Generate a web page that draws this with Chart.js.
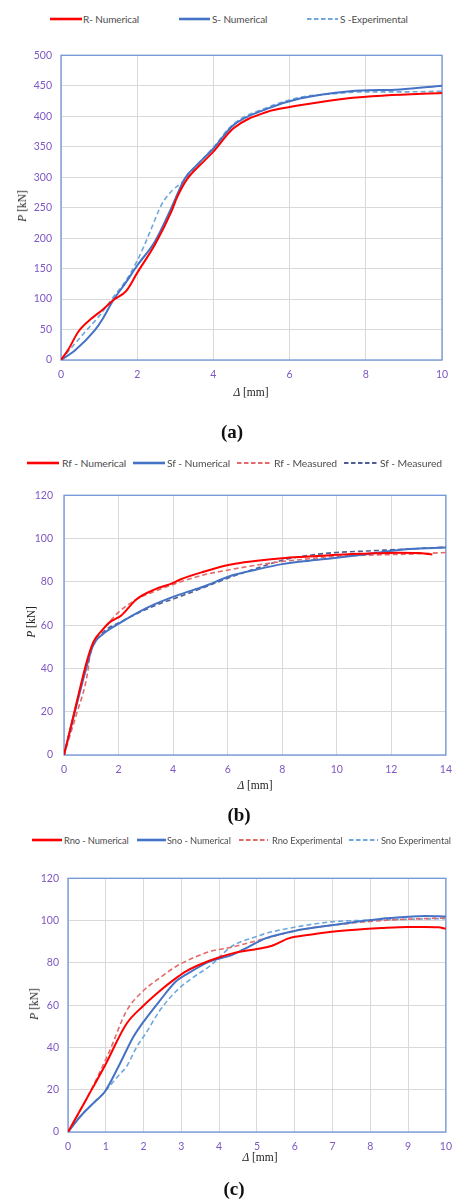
<!DOCTYPE html>
<html>
<head>
<meta charset="utf-8">
<script src="https://cdn.jsdelivr.net/npm/chart.js@4.4.1/dist/chart.umd.min.js"></script>
<style>
  html, body { margin: 0; padding: 0; background: #fff; width: 452px; height: 1199px; overflow: hidden; position: relative; }
  canvas { position: absolute; left: 0; }
  .item { position: absolute; font-family: Lato, "Open Sans", sans-serif; font-size: 10.4px; letter-spacing: -0.1px; color: #4d4d4d; white-space: nowrap; transform: translateY(-50%); }
  .swatch { position: absolute; transform: translateY(-50%); }
  .ytitle, .xtitle { position: absolute; font-family: "Liberation Serif", "DejaVu Serif", serif; font-size: 11.5px; color: #222; white-space: nowrap; }
  .ytitle { transform: translate(-50%, -50%) rotate(-90deg); }
  .xtitle { transform: translate(-50%, -50%); }
  .cap { position: absolute; font-family: "Liberation Serif", "DejaVu Serif", serif; font-weight: bold; font-size: 19px; color: #111; transform: translate(-50%, -50%); }
</style>
</head>
<body>
<script>
// (a) P - delta, R vs S
const aRNumX = [0, 0.2, 0.45, 0.8, 1.1, 1.37, 1.72, 2.0, 2.47, 2.9, 3.04, 3.3, 3.78, 4.0, 4.52, 5.4, 6.0, 7.0, 7.59, 8.5, 10];
const aRNumY = [0, 18, 46, 68, 83, 98, 114, 143, 190, 244, 266, 296, 328, 342, 380, 407, 415, 425, 430, 434, 438];
const aSNumX = [0, 0.37, 0.89, 1.1, 1.37, 1.7, 2.0, 2.47, 2.9, 3.25, 3.6, 4.0, 4.52, 5.4, 6.27, 7.59, 8.9, 10];
const aSNumY = [0, 16, 49, 68, 98, 127, 155, 195, 250, 298, 322, 347, 385, 412, 429, 441, 444, 450];
const aSExpX = [0, 0.3, 0.63, 1.0, 1.37, 1.7, 2.0, 2.2, 2.38, 2.64, 2.9, 3.2, 3.5, 4.0, 4.52, 5.4, 6.27, 7.0, 8.0, 9.0, 10];
const aSExpY = [0, 22, 46, 72, 103, 130, 163, 190, 217, 255, 277, 293, 315, 349, 387, 414, 431, 436, 440, 440, 441];

// (b) Rf / Sf
const bRNumX = [0, 0.46, 0.83, 1.07, 1.44, 1.68, 2.1, 2.66, 3.33, 4.0, 4.24, 5.15, 6.07, 7.0, 8.0, 9.0, 9.84, 11.0, 12.28, 13.0, 13.5];
const bRNumY = [0, 24, 43, 52, 58.3, 61.4, 64.5, 72, 76.5, 79.5, 81, 84.8, 87.9, 89.6, 90.9, 91.7, 92.4, 93.0, 93.5, 93.3, 92.7];
const bSNumX = [0, 0.46, 0.77, 1.07, 1.44, 2.1, 2.7, 3.33, 4.2, 5.15, 6.07, 7.0, 8.0, 9.0, 9.84, 11.0, 12.28, 13.2, 14];
const bSNumY = [0, 23, 38, 50.8, 56, 61.4, 65.8, 69.7, 74, 78, 82.6, 85.5, 88.2, 89.8, 90.9, 92.6, 94.7, 95.5, 95.9];
const bRMeasX = [0, 0.46, 0.77, 0.89, 0.95, 1.2, 1.56, 2.0, 2.6, 3.3, 4.0, 5.15, 6.07, 7.0, 8.0, 9.0, 9.84, 11.0, 12.28, 13.2, 14];
const bRMeasY = [0, 19, 32, 40, 46, 53.8, 59.9, 66, 71.5, 75.5, 78.8, 83.3, 85.6, 87.6, 89.4, 90.7, 91.7, 92.3, 92.7, 93.1, 93.6];
const bSMeasX = [0, 0.46, 0.77, 1.07, 1.5, 2.0, 2.7, 3.33, 4.2, 5.15, 6.07, 7.0, 8.0, 9.0, 10.0, 11.0, 12.0, 13.0, 14];
const bSMeasY = [0, 24, 39, 50.5, 57.5, 61, 65.5, 69, 73, 77.5, 82, 86, 90, 92.3, 93.6, 94.2, 94.8, 95.4, 96];

// (c) Rno / Sno
const cRNumX = [0, 0.5, 1.0, 1.54, 1.98, 2.42, 2.77, 3.12, 3.74, 4.35, 5.0, 5.4, 5.84, 6.4, 6.98, 7.6, 8.3, 9.0, 9.44, 9.8, 10];
const cRNumY = [0, 16, 32.2, 51, 59.5, 66.6, 71.6, 76, 81, 84.5, 86.6, 88.1, 91.6, 93.3, 94.7, 95.7, 96.5, 97, 97, 96.8, 96.2];
const cSNumX = [0, 0.32, 0.75, 0.97, 1.37, 1.72, 1.98, 2.42, 2.86, 3.12, 3.74, 4.35, 4.79, 5.23, 6.1, 6.98, 7.6, 8.3, 9.0, 9.44, 10];
const cSNumY = [0, 7.2, 15, 18.9, 32.2, 44.7, 51.7, 61.9, 71.3, 74.4, 80.6, 83.8, 87.7, 91.6, 95.5, 97.8, 99.3, 100.9, 101.8, 102.2, 101.9];
const cRExpX = [0, 0.5, 1.1, 1.54, 1.98, 2.42, 2.86, 3.03, 3.74, 4.35, 5.23, 6.1, 6.98, 7.8, 8.74, 10];
const cRExpY = [0, 16, 38.3, 57, 66.6, 72.8, 78.3, 80, 85.3, 87.5, 91.6, 95.5, 97.8, 99.3, 100.5, 101.2];
const cSExpX = [0, 0.4, 0.75, 0.97, 1.37, 1.55, 1.81, 2.07, 2.42, 2.86, 3.3, 3.74, 4.35, 5.0, 5.23, 6.1, 6.98, 8.0, 9.0, 10];
const cSExpY = [0, 9, 15, 19, 27.4, 31, 40, 47, 57.2, 66.6, 73, 78.3, 88, 92.5, 93.9, 97.2, 99.4, 100.2, 100.6, 100.9];

const red = "#ff0000";
const blue = "#4472c4";
const lightBlue = "#6fa8dc";
const salmon = "#e46a6a";
const slate = "#4f5f96";
const tickColor = "#7e57c2";
const gridColor = "#d9d9d9";
const frameColor = "#7196d8";
const tickFont = { family: "Lato, 'Open Sans', sans-serif", size: 10.5 };
const canvasWidth = 460;

const panels = [
  {
    top: 40, height: 360, plotTop: 53, plotBottom: 360, plotLeft: 61, plotRight: 442, yPad: 9,
    xMax: 10, xStep: 2, yMax: 500, yStep: 50,
    series: [
      { label: "R- Numerical", xs: aRNumX, ys: aRNumY, color: red },
      { label: "S- Numerical", xs: aSNumX, ys: aSNumY, color: blue },
      { label: "S -Experimental", xs: aSExpX, ys: aSExpY, color: lightBlue, dash: true },
    ],
    legendY: 19, legendFont: 10, legend: [[50, 32, 83], [179, 31, 212], [307, 31, 340]],
    yTitle: [22, 206], xTitle: [251, 392], cap: ["(a)", 232, 432],
  },
  {
    top: 478, height: 320, plotTop: 491, plotBottom: 755, plotLeft: 64, plotRight: 447, yPad: 11,
    xMax: 14, xStep: 2, yMax: 120, yStep: 20,
    series: [
      { label: "Rf - Numerical", xs: bRNumX, ys: bRNumY, color: red },
      { label: "Sf - Numerical", xs: bSNumX, ys: bSNumY, color: blue },
      { label: "Rf - Measured", xs: bRMeasX, ys: bRMeasY, color: salmon, dash: true },
      { label: "Sf - Measured", xs: bSMeasX, ys: bSMeasY, color: slate, dash: true },
    ],
    legendY: 463, legendFont: 10.4, legend: [[27, 32, 62], [133, 32, 167], [237, 34, 274], [344, 34, 380]],
    yTitle: [31, 622], xTitle: [255, 785], cap: ["(b)", 239, 815],
  },
  {
    top: 863, height: 310, plotTop: 876, plotBottom: 1132, plotLeft: 68, plotRight: 448, yPad: 9,
    xMax: 10, xStep: 1, yMax: 120, yStep: 20,
    series: [
      { label: "Rno - Numerical", xs: cRNumX, ys: cRNumY, color: red },
      { label: "Sno - Numerical", xs: cSNumX, ys: cSNumY, color: blue },
      { label: "Rno Experimental", xs: cRExpX, ys: cRExpY, color: salmon, dash: true },
      { label: "Sno Experimental", xs: cSExpX, ys: cSExpY, color: lightBlue, dash: true },
    ],
    legendY: 840, legendFont: 9.3, legend: [[32, 30, 64], [137, 29, 167], [239, 29, 272], [349, 29, 381]],
    yTitle: [34, 1004], xTitle: [260, 1157], cap: ["(c)", 234, 1189],
  },
];

function pts(xs, ys) {
  return xs.map((x, i) => ({ x, y: ys[i] }));
}

const frame = {
  id: "frame",
  beforeDatasetsDraw(chart) {
    const { ctx, chartArea: a } = chart;
    ctx.save();
    ctx.strokeStyle = frameColor;
    ctx.lineWidth = 1.3;
    ctx.strokeRect(a.left, a.top, a.right - a.left, a.bottom - a.top);
    ctx.restore();
  },
};

function addText(cls, html, x, y) {
  const el = document.createElement("div");
  el.className = cls;
  el.innerHTML = html;
  el.style.left = `${x}px`;
  el.style.top = `${y}px`;
  document.body.appendChild(el);
  return el;
}

function addLegend(p) {
  p.series.forEach((s, i) => {
    const [lineX, lineW, textX] = p.legend[i];
    const svg = document.createElementNS("http://www.w3.org/2000/svg", "svg");
    svg.setAttribute("class", "swatch");
    svg.setAttribute("width", lineW);
    svg.setAttribute("height", 6);
    svg.style.left = `${lineX}px`;
    svg.style.top = `${p.legendY}px`;
    const line = document.createElementNS("http://www.w3.org/2000/svg", "line");
    line.setAttribute("x1", 0);
    line.setAttribute("x2", lineW);
    line.setAttribute("y1", 3);
    line.setAttribute("y2", 3);
    line.setAttribute("stroke", s.color);
    line.setAttribute("stroke-width", s.dash ? 2 : 2.6);
    if (s.dash) line.setAttribute("stroke-dasharray", "4.5,2.5");
    svg.appendChild(line);
    document.body.appendChild(svg);
    const label = addText("item", s.label, textX, p.legendY);
    label.style.fontSize = `${p.legendFont}px`;
  });
}

function makeChart(p) {
  const canvas = document.createElement("canvas");
  canvas.width = canvasWidth;
  canvas.height = p.height;
  canvas.style.top = `${p.top}px`;
  document.body.appendChild(canvas);

  new Chart(canvas, {
    type: "line",
    data: {
      datasets: p.series.map((s) => ({
        label: s.label,
        data: pts(s.xs, s.ys),
        borderColor: s.color,
        borderWidth: s.dash ? 1.6 : 2,
        borderDash: s.dash ? [5, 3] : [],
        pointRadius: 0,
        cubicInterpolationMode: "monotone",
        fill: false,
      })),
    },
    options: {
      responsive: false,
      animation: false,
      devicePixelRatio: 1,
      layout: { padding: { top: p.plotTop - p.top, right: canvasWidth - p.plotRight, left: 0, bottom: 0 } },
      plugins: { legend: { display: false }, tooltip: { enabled: false } },
      scales: {
        x: {
          type: "linear",
          min: 0,
          max: p.xMax,
          ticks: { stepSize: p.xStep, padding: 8, color: tickColor, font: tickFont, maxRotation: 0, autoSkip: false },
          grid: { color: gridColor, lineWidth: 1, drawTicks: false },
          border: { display: false },
          afterFit: (scale) => { scale.height = p.top + p.height - p.plotBottom; },
        },
        y: {
          min: 0,
          max: p.yMax,
          ticks: { stepSize: p.yStep, padding: p.yPad, color: tickColor, font: tickFont },
          grid: { color: gridColor, lineWidth: 1, drawTicks: false },
          border: { display: false },
          afterFit: (scale) => { scale.width = p.plotLeft; },
        },
      },
    },
    plugins: [frame],
  });

  addLegend(p);
  addText("ytitle", "<i>P</i> [kN]", p.yTitle[0], p.yTitle[1]);
  addText("xtitle", "<i>Δ</i> [mm]", p.xTitle[0], p.xTitle[1]);
  addText("cap", p.cap[0], p.cap[1], p.cap[2]);
}

panels.forEach(makeChart);
</script>
</body>
</html>
